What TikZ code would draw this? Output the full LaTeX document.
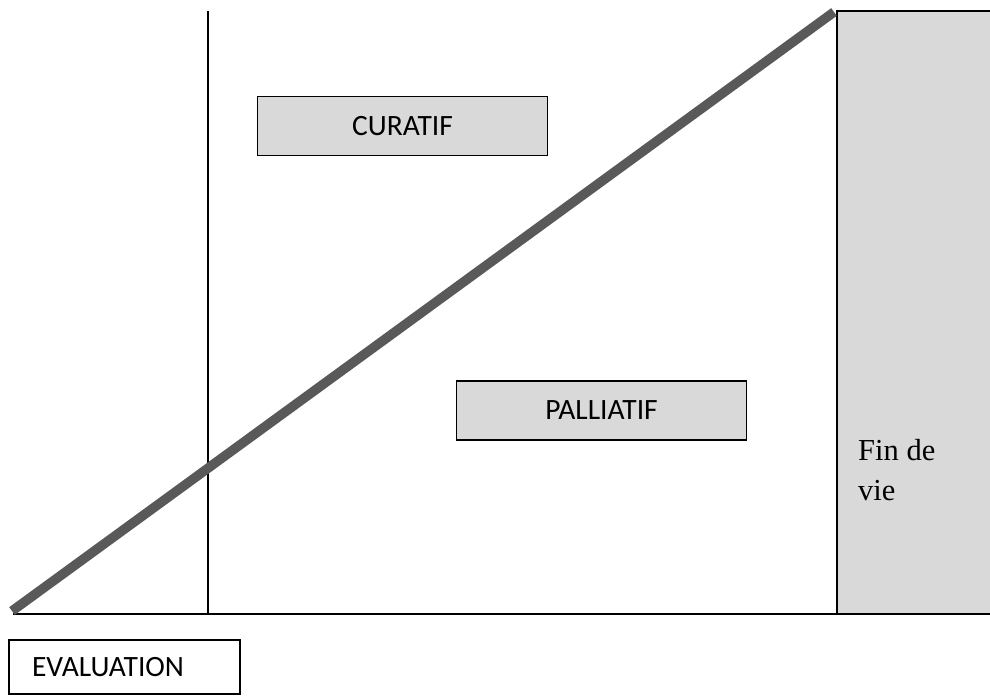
\documentclass[tikz,border=0pt]{standalone}
\usepackage{fontspec}
\setmainfont{Liberation Serif}
\newfontfamily\boxfont{Carlito}
\definecolor{boxgray}{HTML}{D9D9D9}
\definecolor{slope}{HTML}{595959}
\begin{document}
\begin{tikzpicture}[x=1pt,y=-1pt,
  thinline/.style={line width=1.5pt,black},
  phasebox/.style={draw=black,line width=1.5pt,fill=boxgray,minimum width=290pt,minimum height=59pt,inner sep=0pt,font=\boxfont\fontsize{29.5}{34}\selectfont}]
\useasboundingbox (0,0) rectangle (990,696);
% end-of-life band
\fill[boxgray] (837,11) rectangle (990,614);
\draw[thinline] (990,11) -- (837,11) -- (837,614) -- (990,614);
\node[anchor=base west,inner sep=0pt,align=left,font=\fontsize{30.5}{40}\selectfont] (fin) at (858,500) {Fin de\\vie};
% axes
\coordinate (o) at (13,614);
\coordinate (xend) at (956,614);
\coordinate (vtop) at (208,11);
\coordinate (vbot) at (208,614);
\draw[thinline] (o) -- (xend);
\draw[thinline] (vtop) -- (vbot);
% phase boxes
\node[phasebox] (cur) at (402.5,126) {CURATIF};
\node[phasebox] (pal) at (601.5,410.5) {PALLIATIF};
\node[draw=black,line width=1.5pt,fill=white,minimum width=231pt,minimum height=54pt,inner sep=0pt,font=\boxfont\fontsize{29.5}{34}\selectfont,text width=185pt,align=left] (eval) at (124.5,667) {EVALUATION};
% rising slope
\coordinate (s0) at (12,611);
\coordinate (s1) at (834,12);
\draw[slope,line width=9.5pt] (s0) -- (s1);
\end{tikzpicture}
\end{document}
